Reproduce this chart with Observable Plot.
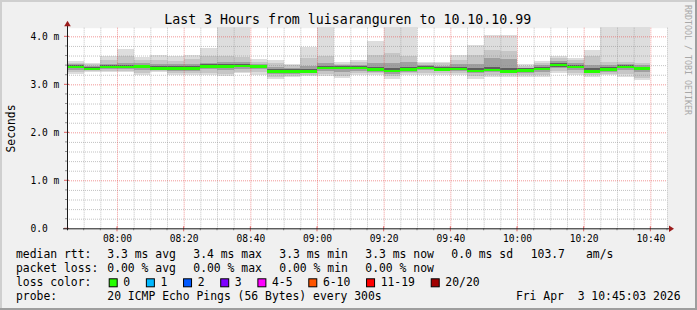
<!DOCTYPE html>
<html><head><meta charset="utf-8">
<script src="https://cdn.jsdelivr.net/npm/d3@7"></script>
<script src="https://cdn.jsdelivr.net/npm/@observablehq/plot@0.6"></script>
<style>
html,body{margin:0;padding:0;background:#f0f0f0;overflow:hidden;width:697px;height:310px;}
#chart svg{display:block;}
</style></head><body><div id="chart"></div>
<script>
// ---- data (ms) ----
const binStart = ["07:45","07:50","07:55","08:00","08:05","08:10","08:15","08:20","08:25","08:30","08:35","08:40",
  "08:45","08:50","08:55","09:00","09:05","09:10","09:15","09:20","09:25","09:30","09:35","09:40",
  "09:45","09:50","09:55","10:00","10:05","10:10","10:15","10:20","10:25","10:30","10:35"];
const median = [3.37,3.33,3.37,3.37,3.38,3.34,3.34,3.34,3.38,3.38,3.39,3.38,
  3.28,3.28,3.28,3.35,3.35,3.35,3.32,3.29,3.32,3.35,3.32,3.33,
  3.29,3.31,3.28,3.30,3.33,3.41,3.37,3.28,3.32,3.37,3.34];
const pingMax = [3.48,3.44,3.60,3.74,3.57,3.61,3.58,3.61,3.76,4.20,4.20,3.52,
  3.50,3.43,3.78,4.20,3.46,3.50,3.90,4.20,4.20,3.47,3.47,3.61,
  3.81,4.02,4.02,3.42,3.48,3.58,3.55,3.71,4.20,4.20,4.20];
const pingMin = [3.22,3.26,3.25,3.25,3.20,3.25,3.20,3.19,3.20,3.17,3.23,3.20,
  3.12,3.15,3.17,3.17,3.14,3.19,3.19,3.12,3.19,3.20,3.20,3.19,
  3.12,3.16,3.16,3.16,3.16,3.23,3.19,3.16,3.19,3.16,3.08];
const hi2 = [3.45,3.42,3.50,3.58,3.50,3.50,3.48,3.52,3.58,3.58,3.56,3.47,
  3.44,3.40,3.55,3.60,3.42,3.46,3.62,3.65,3.60,3.44,3.44,3.50,
  3.62,3.71,3.69,3.39,3.45,3.54,3.50,3.58,3.47,3.47,3.44];
const lo2 = [3.25,3.28,3.27,3.27,3.24,3.27,3.24,3.23,3.24,3.21,3.26,3.25,
  3.16,3.18,3.20,3.22,3.18,3.23,3.23,3.17,3.23,3.24,3.24,3.24,
  3.17,3.20,3.20,3.19,3.20,3.27,3.23,3.20,3.22,3.21,3.14];
const hi3 = [3.42,3.39,3.43,3.45,3.44,3.42,3.42,3.42,3.45,3.46,3.46,3.43,
  3.36,3.35,3.38,3.44,3.40,3.41,3.44,3.45,3.46,3.41,3.39,3.42,
  3.42,3.55,3.52,3.35,3.40,3.48,3.45,3.40,3.40,3.43,3.40];
const lo3 = [3.30,3.29,3.31,3.31,3.30,3.29,3.28,3.28,3.31,3.30,3.32,3.31,
  3.22,3.22,3.23,3.28,3.26,3.28,3.26,3.22,3.26,3.29,3.27,3.27,
  3.23,3.25,3.23,3.24,3.26,3.33,3.30,3.23,3.26,3.29,3.25];
const hi4 = [3.40,3.36,3.40,3.41,3.41,3.38,3.38,3.38,3.42,3.42,3.43,3.41,
  3.32,3.31,3.32,3.39,3.38,3.38,3.36,3.34,3.36,3.38,3.36,3.37,
  3.33,3.36,3.33,3.33,3.37,3.44,3.41,3.33,3.36,3.40,3.37];
const lo4 = [3.34,3.30,3.34,3.34,3.34,3.31,3.31,3.31,3.35,3.35,3.36,3.35,
  3.25,3.25,3.25,3.32,3.31,3.32,3.29,3.26,3.29,3.32,3.29,3.30,
  3.26,3.28,3.25,3.27,3.30,3.37,3.34,3.25,3.29,3.33,3.30];

const xTickLabels = ["08:00","08:20","08:40","09:00","09:20","09:40","10:00","10:20","10:40"];
const yTickValues = [0, 1, 2, 3, 4];
const yTickLabels = ["0.0","1.0 m","2.0 m","3.0 m","4.0 m"];
const titleText = "Last 3 Hours from luisaranguren to 10.10.10.99";
const yAxisLabel = "Seconds";
const rttLabel = "median rtt:";
const rttStats = ["3.3 ms avg","3.4 ms max","3.3 ms min","3.3 ms now","0.0 ms sd"];
const rttExtra = ["103.7","am/s"];
const lossLabel = "packet loss:";
const lossStats = ["0.00 % avg","0.00 % max","0.00 % min","0.00 % now"];
const lossColorLabel = "loss color:";
const lossCats = ["0","1","2","3","4-5","6-10","11-19","20/20"];
const lossColors = ["#26ff00","#00b8ff","#0059ff","#7e00ff","#ff00ff","#ff5500","#ff0000","#a10000"];
const probeLabel = "probe:";
const probeText = "20 ICMP Echo Pings (56 Bytes) every 300s";
const dateText = "Fri Apr  3 10:45:03 2026";
const watermark = "RRDTOOL / TOBI OETIKER";
const stepSeconds = 300;

// ---- build ----
const T = s => new Date(`2026-04-03T${s}:00Z`);
const bins = binStart.map((s, i) => ({
  t0: T(s), t1: new Date(T(s).getTime() + stepSeconds * 1000),
  med: median[i], max: pingMax[i], min: pingMin[i],
  hi2: hi2[i], lo2: lo2[i], hi3: hi3[i], lo3: lo3[i], hi4: hi4[i], lo4: lo4[i]
}));
const xStart = T("07:45"), xEnd = T("10:45");
const minorX = d3.utcMinute.every(5).range(xStart, new Date(xEnd.getTime() + 1)).filter(d => d.getUTCMinutes() % 20 !== 0 && d > xStart);
const majorX = xTickLabels.map(T);
const minorY = d3.range(1, 21).map(i => i * 0.2).filter(v => Math.abs(v - Math.round(v)) > 1e-6);
const majorY = [1, 2, 3, 4];

const MONO = "'DejaVu Sans Mono', monospace";
const band = (lo, hi, fill) => Plot.rect(bins, {x1: "t0", x2: "t1", y1: lo, y2: hi, fill, shapeRendering: "crispEdges"});

const chart = Plot.plot({
  width: 697, height: 310,
  marginLeft: 67, marginRight: 30, marginTop: 27.7, marginBottom: 81.7,
  style: {background: "#f0f0f0", fontFamily: MONO},
  x: {type: "utc", domain: [xStart, xEnd], axis: null},
  y: {domain: [0, 4.18], axis: null},
  marks: [
    Plot.frame({fill: "white", stroke: null}),
    band("min", "max", "#dddddd"),
    band("lo2", "hi2", "#c6c6c6"),
    band("lo3", "hi3", "#a0a0a0"),
    band("lo4", "hi4", "#5e5e5e"),
    Plot.ruleX(minorX, {stroke: "#8f8f8f", strokeOpacity: 0.55, strokeDasharray: "1,1"}),
    Plot.ruleY(minorY, {stroke: "#8f8f8f", strokeOpacity: 0.55, strokeDasharray: "1,1"}),
    Plot.ruleX(majorX, {stroke: "#e85050", strokeOpacity: 0.6, strokeDasharray: "1,1"}),
    Plot.ruleY(majorY, {stroke: "#e85050", strokeOpacity: 0.6, strokeDasharray: "1,1"}),
    Plot.ruleY(bins, {y: "med", x1: "t0", x2: "t1", stroke: lossColors[0], strokeWidth: 2.4, shapeRendering: "crispEdges"}),
    Plot.text(majorX, {x: d => d, text: (d, i) => xTickLabels[i], frameAnchor: "bottom", dy: 12.7, fontSize: 9.6, fill: "#000", textAnchor: "middle"}),
    Plot.text(yTickValues, {y: d => d, text: (d, i) => yTickLabels[i], frameAnchor: "left", dx: -37, fontSize: 9.6, fill: "#000", textAnchor: "start"})
  ]
});
document.getElementById("chart").appendChild(chart);

const sx = chart.scale("x"), sy = chart.scale("y");
const svg = d3.select(chart);
const X0 = sx.apply(xStart), X1 = sx.apply(xEnd), Y0 = sy.apply(0), YT = sy.apply(4.18);

// axis ticks
const g = svg.append("g");
minorX.forEach(d => g.append("line").attr("x1", sx.apply(d)).attr("x2", sx.apply(d)).attr("y1", Y0).attr("y2", Y0 + 2).attr("stroke", "#8f8f8f"));
majorX.forEach(d => g.append("line").attr("x1", sx.apply(d)).attr("x2", sx.apply(d)).attr("y1", Y0 - 2).attr("y2", Y0 + 3).attr("stroke", "#e06060"));
minorY.forEach(v => g.append("line").attr("x1", X0 - 2).attr("x2", X0).attr("y1", sy.apply(v)).attr("y2", sy.apply(v)).attr("stroke", "#8f8f8f"));
majorY.concat([0]).forEach(v => g.append("line").attr("x1", X0 - 3).attr("x2", X0 + 2).attr("y1", sy.apply(v)).attr("y2", sy.apply(v)).attr("stroke", "#e06060"));
// axis lines
g.append("line").attr("x1", X0 - 4).attr("x2", X1 + 3).attr("y1", Y0 + 0.5).attr("y2", Y0 + 0.5).attr("stroke", "#1a1a1a");
g.append("line").attr("x1", X0 + 0.5).attr("x2", X0 + 0.5).attr("y1", Y0 + 2).attr("y2", YT - 5).attr("stroke", "#1a1a1a");
// arrows
g.append("path").attr("d", `M${X0 + 0.5},${YT - 7} L${X0 - 2.8},${YT - 1.5} L${X0 + 3.8},${YT - 1.5}Z`).attr("fill", "#9b1c1c");
g.append("path").attr("d", `M${X1 + 7},${Y0 + 0.5} L${X1 + 2},${Y0 - 2.8} L${X1 + 2},${Y0 + 3.8}Z`).attr("fill", "#9b1c1c");

// borders (shade)
const W = 697, H = 310;
svg.append("rect").attr("x", 0).attr("y", 0).attr("width", W).attr("height", 2).attr("fill", "#cfcfcf");
svg.append("rect").attr("x", 0).attr("y", 0).attr("width", 2).attr("height", H).attr("fill", "#cfcfcf");
svg.append("rect").attr("x", W - 2).attr("y", 0).attr("width", 2).attr("height", H).attr("fill", "#9e9e9e");
svg.append("rect").attr("x", 0).attr("y", H - 2).attr("width", W).attr("height", 2).attr("fill", "#9e9e9e");

// texts
const t = (x, y, s, size, opts = {}) => {
  const e = svg.append("text").attr("x", x).attr("y", y).attr("font-family", MONO).attr("font-size", size)
    .attr("fill", opts.fill || "#000").attr("text-anchor", opts.anchor || "start").attr("xml:space", "preserve")
    .style("white-space", "pre").text(s);
  if (opts.transform) e.attr("transform", opts.transform).attr("x", 0).attr("y", 0);
  return e;
};
t(347.7, 23.5, titleText, 13.25, {anchor: "middle"});
t(0, 0, yAxisLabel, 11.4, {anchor: "middle", transform: "translate(15,128.5) rotate(-90)"});
t(0, 0, watermark, 8.3, {fill: "#a8a8a8", transform: "translate(685,5) rotate(90)"});

const FS = 11.4, CW = 6.87;
const L1 = 258.2, L2 = 272, L3 = 285.8, L4 = 299.6, COL = 107.3, COLW = 86;
t(16, L1, rttLabel, FS);
rttStats.forEach((s, i) => t(COL + i * COLW, L1, s, FS));
t(530.7, L1, rttExtra[0], FS);
t(586, L1, rttExtra[1], FS);
t(16, L2, lossLabel, FS);
lossStats.forEach((s, i) => t(COL + i * COLW, L2, s, FS));
t(16, L3, lossColorLabel, FS);
let lx = 108.7;
lossCats.forEach((c, i) => {
  svg.append("rect").attr("x", lx + 0.5).attr("y", L3 - 7).attr("width", 8).attr("height", 8)
    .attr("fill", lossColors[i]).attr("stroke", "#000").attr("stroke-width", 1);
  t(lx + 14.6, L3, c, FS);
  lx += 14.6 + c.length * CW + 15.7;
});
t(16, L4, probeLabel, FS);
t(COL, L4, probeText, FS);
t(680.5, L4, dateText, FS, {anchor: "end"});
</script></body></html>
